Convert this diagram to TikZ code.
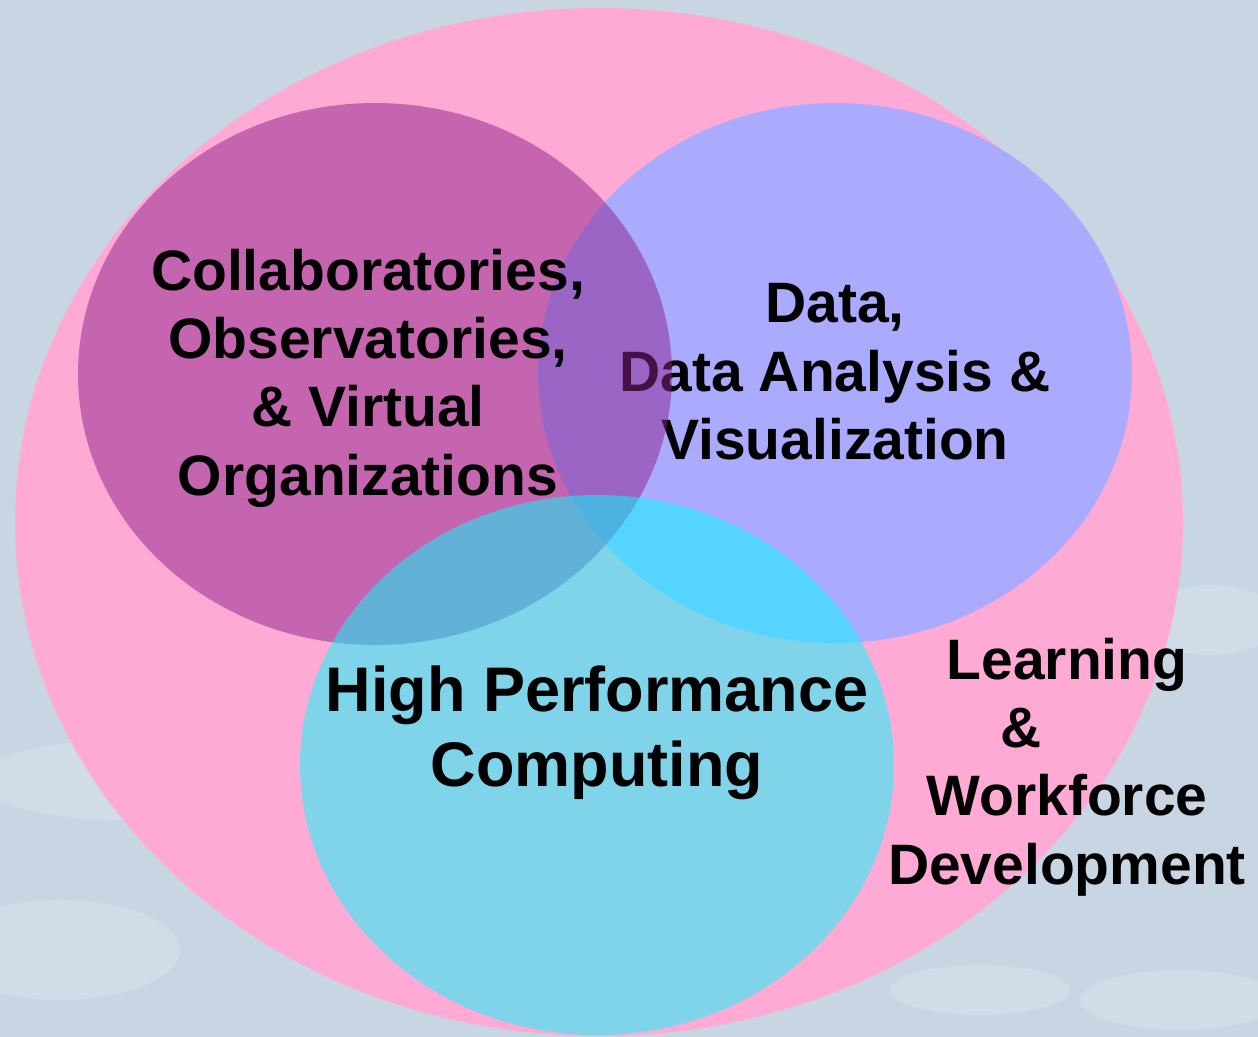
\documentclass[tikz,border=0pt]{standalone}
\usepackage{fontspec}
\setmainfont{Liberation Sans}
\definecolor{bgblue}{RGB}{200,214,227}
\definecolor{outerpink}{RGB}{255,170,212}
\definecolor{datablue}{RGB}{170,170,255}
\definecolor{collabpurple}{RGB}{142,34,140}
\definecolor{hpccyan}{RGB}{0,255,255}
\tikzset{
  lbl/.style={inner sep=0pt, align=center, text=black, font=\bfseries\fontsize{57}{68.4}\selectfont},
  lblbig/.style={inner sep=0pt, align=center, text=black, font=\bfseries\fontsize{63}{75.6}\selectfont},
  cloud/.style={fill=white, opacity=0.15}
}
\begin{document}
\begin{tikzpicture}[x=1pt,y=-1pt]
\useasboundingbox (0,0) rectangle (1258,1036);
% background
\fill[bgblue] (-5,-5) rectangle (1263,1041);
\fill[cloud] (120,780) ellipse [x radius=140pt, y radius=40pt];
\fill[cloud] (60,950) ellipse [x radius=120pt, y radius=50pt];
\fill[cloud] (980,990) ellipse [x radius=90pt, y radius=25pt];
\fill[cloud] (1180,1000) ellipse [x radius=100pt, y radius=30pt];
\fill[cloud] (1210,620) ellipse [x radius=70pt, y radius=35pt];
% outer ellipse
\fill[outerpink] (599,522) ellipse [x radius=584pt, y radius=514pt];
% data ellipse
\fill[datablue] (835,373) ellipse [x radius=297pt, y radius=270pt];
\node[lbl] (data) at (835,372) {Data,\\Data Analysis \&\\Visualization};
% collaboratories ellipse
\fill[collabpurple, opacity=0.5] (375,374) ellipse [x radius=297pt, y radius=271pt];
\node[lbl] (collab) at (368,378) {Collaboratories,\\Observatories,\\\& Virtual\\Organizations};
% HPC ellipse
\fill[hpccyan, opacity=0.5] (597,765) ellipse [x radius=297pt, y radius=270pt];
\node[lblbig] (hpc) at (597,733) {High Performance\\Computing};
% learning
\node[lbl] (learn) at (1067,767) {Learning\\\&\rule{92pt}{0pt}\\Workforce\\Development};
\end{tikzpicture}
\end{document}
